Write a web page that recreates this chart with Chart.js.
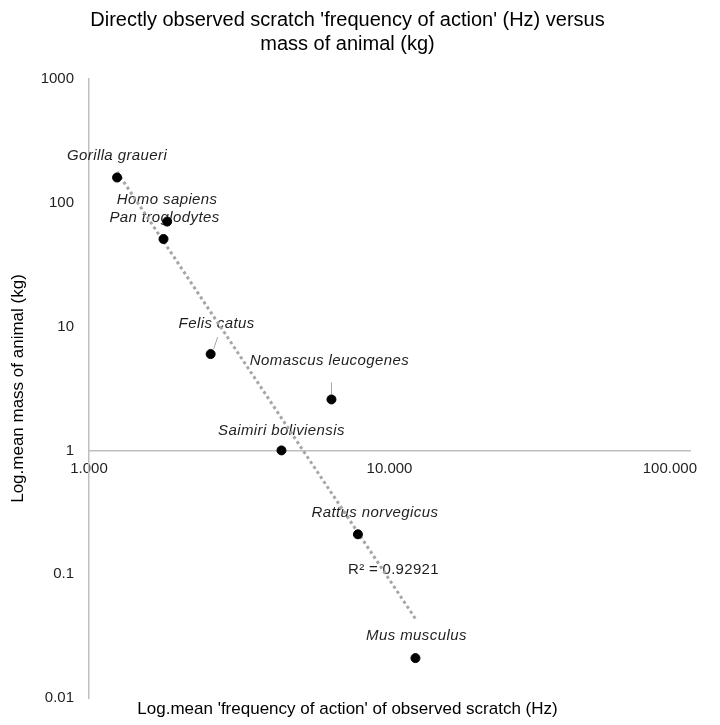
<!DOCTYPE html>
<html>
<head>
<meta charset="utf-8">
<script src="https://cdn.jsdelivr.net/npm/chart.js@4.4.1/dist/chart.umd.min.js"></script>
<style>
  html, body { margin: 0; padding: 0; background: #ffffff; }
  #wrap { width: 720px; height: 725px; }
</style>
</head>
<body>
<div id="wrap"><canvas id="c" width="720" height="725"></canvas></div>
<script>
// ---- data ----
const species = ['Gorilla graueri', 'Homo sapiens', 'Pan troglodytes', 'Felis catus',
                 'Nomascus leucogenes', 'Saimiri boliviensis', 'Rattus norvegicus', 'Mus musculus'];
const frequencyHz = [1.24, 1.82, 1.77, 2.54, 6.41, 4.37, 7.85, 12.2];
const massKg      = [160, 70.5, 51, 6.0, 2.58, 1.0, 0.21, 0.021];
const yTickValues = [0.01, 0.1, 1, 10, 100, 1000];
const yTickLabels = ['0.01', '0.1', '1', '10', '100', '1000'];
const xTickValues = [1, 10, 100];
const xTickLabels = ['1.000', '10.000', '100.000'];
const chartTitle  = ["Directly observed scratch 'frequency of action' (Hz) versus", 'mass of animal (kg)'];
const xAxisTitle  = "Log.mean 'frequency of action' of observed scratch (Hz)";
const yAxisTitle  = 'Log.mean mass of animal (kg)';
const rSquaredText = 'R² = 0.92921';

// ---- styling (label placement relative to each point) ----
const labelOffsets = [[0, -22], [0, -22], [1, -21], [6, -30], [-2, -39], [0, -20], [17, -21], [1, -22]];
const leaderLines  = { 3: [[7, -17], [3, -5]], 4: [[0, -17], [0, -5]] };
const FONT = '"Liberation Sans", Arial, Helvetica, sans-serif';
const TEXT = '#1f1f1f';

// ---- power-law trendline (least squares in log-log space) ----
const lx = frequencyHz.map(Math.log10), ly = massKg.map(Math.log10);
const n = lx.length;
const mx = lx.reduce((a, b) => a + b, 0) / n, my = ly.reduce((a, b) => a + b, 0) / n;
let sxy = 0, sxx = 0;
for (let i = 0; i < n; i++) { sxy += (lx[i] - mx) * (ly[i] - my); sxx += (lx[i] - mx) ** 2; }
const slope = sxy / sxx, icpt = my - slope * mx;
const xMin = Math.min(...frequencyHz), xMax = Math.max(...frequencyHz);
const trendPts = [xMin, xMax].map(v => ({ x: v, y: Math.pow(10, icpt + slope * Math.log10(v)) }));

const points = frequencyHz.map((v, i) => ({ x: v, y: massKg[i] }));

function matchLabel(value, vals, labels) {
  for (let i = 0; i < vals.length; i++) {
    if (Math.abs(Math.log10(value) - Math.log10(vals[i])) < 1e-6) return labels[i];
  }
  return null;
}

const annotatePlugin = {
  id: 'annotate',
  beforeDraw(chart) {
    // keep the last x label inside the plot's right edge (as in the reference)
    const xs = chart.scales.x;
    const items = xs.getLabelItems();
    const last = items.filter(it => it.label === xTickLabels[xTickLabels.length - 1])[0];
    if (last && !last._shifted) {
      last.options.textAlign = 'right';
      last.options.translation[0] += 7;
      last._shifted = true;
    }
  },
  beforeDatasetsDraw(chart) {
    const { ctx, scales: { x, y } } = chart;
    ctx.save();
    ctx.font = 'italic 15px ' + FONT;
    ctx.letterSpacing = '0.4px';
    ctx.fillStyle = TEXT;
    ctx.textAlign = 'center';
    ctx.textBaseline = 'middle';
    species.forEach((name, i) => {
      const px = x.getPixelForValue(frequencyHz[i]);
      const py = y.getPixelForValue(massKg[i]);
      const [dx, dy] = labelOffsets[i];
      ctx.fillText(name, px + dx, py + dy);
      if (leaderLines[i]) {
        const [[ax, ay], [bx, by]] = leaderLines[i];
        ctx.strokeStyle = '#a6a6a6';
        ctx.lineWidth = 1;
        ctx.beginPath();
        ctx.moveTo(px + ax, py + ay);
        ctx.lineTo(px + bx, py + by);
        ctx.stroke();
      }
    });
    ctx.font = '15px ' + FONT;
    ctx.letterSpacing = '0.3px';
    const ex = x.getPixelForValue(trendPts[1].x), ey = y.getPixelForValue(trendPts[1].y);
    ctx.fillText(rSquaredText, ex - 22, ey - 49);
    ctx.restore();
  }
};

new Chart(document.getElementById('c').getContext('2d'), {
  type: 'scatter',
  data: {
    datasets: [
      {
        label: 'Observed',
        data: points,
        backgroundColor: '#000000',
        borderColor: '#000000',
        pointRadius: 4.5,
        pointHoverRadius: 4.5,
        order: 0
      },
      {
        type: 'line',
        label: 'Power trend',
        data: trendPts,
        borderColor: '#a6a6a6',
        borderWidth: 3,
        borderDash: [3, 3],
        borderCapStyle: 'butt',
        pointRadius: 0,
        fill: false,
        showLine: true,
        order: 1
      }
    ]
  },
  options: {
    responsive: false,
    animation: false,
    devicePixelRatio: 1,
    layout: { padding: { left: 5, right: 30, top: 0, bottom: 5.6 } },
    plugins: {
      legend: { display: false },
      tooltip: { enabled: false },
      title: {
        display: true,
        text: chartTitle,
        color: '#000000',
        font: { family: FONT, size: 20, weight: 'normal', lineHeight: 24 / 20 },
        padding: { top: 8, bottom: 23 }
      },
      subtitle: {
        display: true,
        position: 'bottom',
        text: xAxisTitle,
        color: '#000000',
        font: { family: FONT, size: 17, weight: 'normal', lineHeight: 1.2 },
        padding: { top: 1, bottom: 0 }
      }
    },
    scales: {
      x: {
        type: 'logarithmic',
        min: 1,
        max: 100,
        position: { y: 1 },
        grid: { display: false, drawTicks: false },
        border: { display: true, color: '#bfbfbf', width: 1.5 },
        afterFit(scale) { scale.paddingLeft = 0; scale.paddingRight = 0; },
        ticks: {
          autoSkip: false,
          maxRotation: 0,
          minRotation: 0,
          padding: 9,
          color: TEXT,
          font: { family: FONT, size: 15 },
          callback: (v) => matchLabel(v, xTickValues, xTickLabels)
        }
      },
      y: {
        type: 'logarithmic',
        min: 0.01,
        max: 1000,
        position: 'left',
        grid: { display: false, drawTicks: false },
        border: { display: true, color: '#bfbfbf', width: 1.5 },
        afterFit(scale) { scale.width = 84; },
        ticks: {
          autoSkip: false,
          padding: 15,
          color: TEXT,
          font: { family: FONT, size: 15 },
          callback: (v) => matchLabel(v, yTickValues, yTickLabels)
        },
        title: {
          display: true,
          text: yAxisTitle,
          color: '#000000',
          font: { family: FONT, size: 17, weight: 'normal', lineHeight: 1.2 },
          padding: { top: 3, bottom: 4 }
        }
      }
    }
  },
  plugins: [annotatePlugin]
});
</script>
</body>
</html>
